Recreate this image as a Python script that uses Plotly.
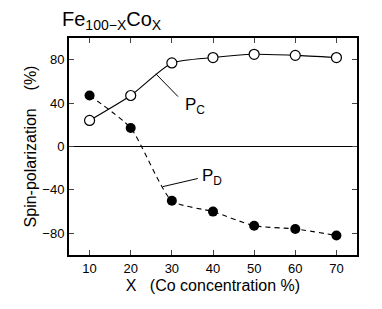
import plotly.graph_objects as go

x_vals = [10, 20, 30, 40, 50, 60, 70]
pc_vals = [24, 47, 77, 82, 85, 84, 82]
pd_vals = [47, 17, -50, -60, -73, -76, -82]
x_ticks = [10, 20, 30, 40, 50, 60, 70]
y_ticks = [-80, -40, 0, 40, 80]

font = "Liberation Sans, Arial, sans-serif"

fig = go.Figure()
fig.add_trace(go.Scatter(x=x_vals, y=pc_vals, mode="lines+markers",
                         line=dict(color="black", width=1.1, shape="spline", smoothing=0.6),
                         marker=dict(symbol="circle", size=10, color="white",
                                     line=dict(color="black", width=1.2)),
                         showlegend=False))
fig.add_trace(go.Scatter(x=x_vals, y=pd_vals, mode="lines+markers",
                         line=dict(color="black", width=1.1, dash="5px,4px", shape="spline", smoothing=0.6),
                         marker=dict(symbol="circle", size=10, color="black"),
                         showlegend=False))

fig.add_shape(type="line", x0=26.1, y0=67, x1=31.5, y1=46, line=dict(color="black", width=1))
fig.add_shape(type="line", x0=27.8, y0=-37, x1=36.3, y1=-29.5, line=dict(color="black", width=1))
fig.add_annotation(x=32.6, y=37, text="P<sub>C</sub>", showarrow=False, xanchor="left",
                   font=dict(family=font, size=17, color="black"))
fig.add_annotation(x=36.8, y=-28, text="P<sub>D</sub>", showarrow=False, xanchor="left",
                   font=dict(family=font, size=17, color="black"))

fig.update_layout(
    width=382, height=309,
    margin=dict(l=61, r=33, t=30, b=62),
    paper_bgcolor="white", plot_bgcolor="white",
    font=dict(family=font, size=13, color="black"),
    title=dict(text="Fe<sub>100\u2212X</sub>Co<sub>X</sub>", x=54/382, xanchor="left",
               y=1 - 11/309, yanchor="middle", font=dict(family=font, size=20, color="black")),
)
fig.update_xaxes(range=[5, 75], tickvals=x_ticks, ticks="inside", ticklen=5, tickwidth=1.2,
                 showline=True, linecolor="black", linewidth=2, mirror="ticks",
                 showgrid=False, zeroline=False, tickfont=dict(size=13), automargin=False,
                 title=dict(text="X&nbsp;&nbsp;&nbsp;(Co concentration %)", font=dict(size=16), standoff=5))
fig.update_yaxes(range=[-100, 100], tickvals=y_ticks, ticks="inside", ticklen=5, tickwidth=1.2,
                 showline=True, linecolor="black", linewidth=2, mirror="ticks",
                 showgrid=False, zeroline=True, zerolinecolor="black", zerolinewidth=1.2,
                 tickfont=dict(size=13), automargin=False,
                 title=dict(text="Spin-polarization&nbsp;&nbsp;&nbsp;&nbsp;(%)", font=dict(size=16), standoff=2))

fig.write_html("out.html")
